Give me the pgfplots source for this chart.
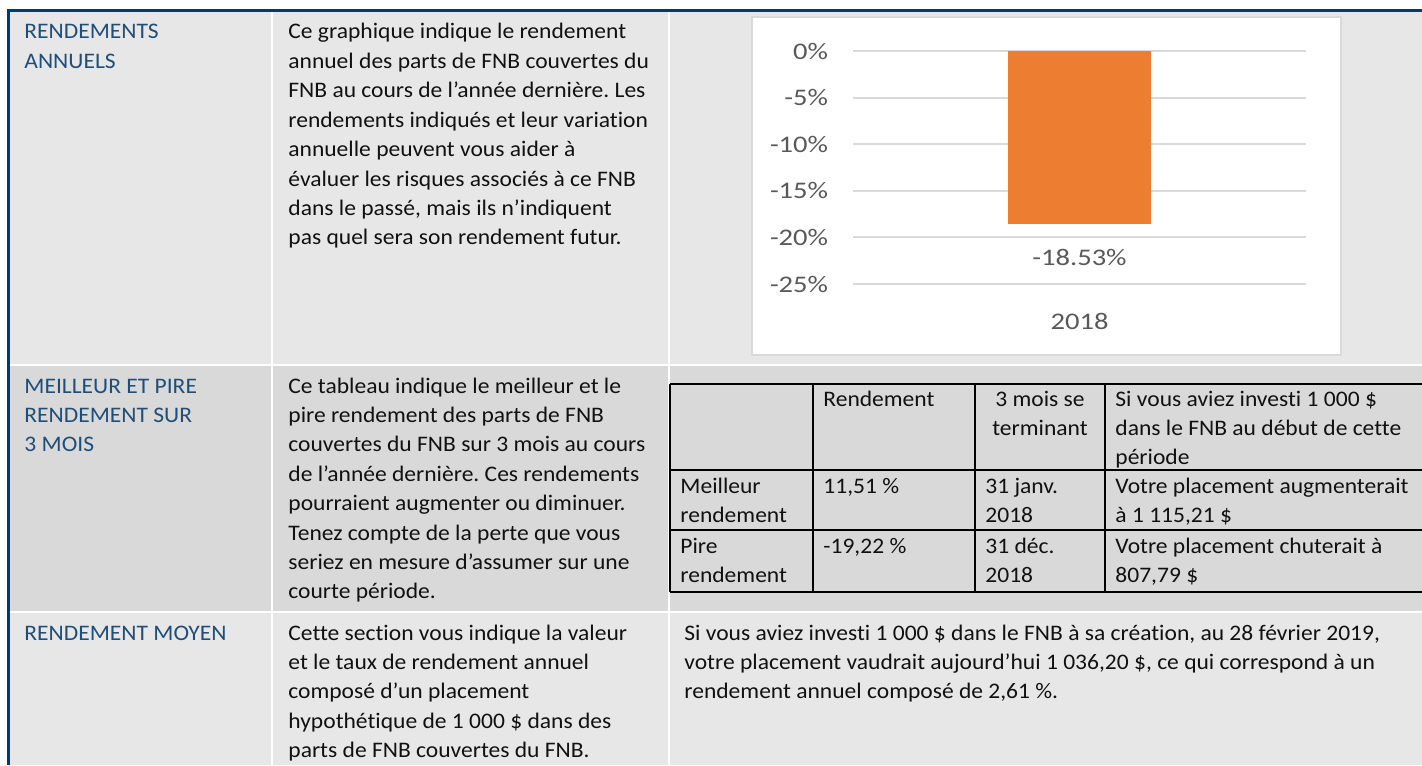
\documentclass[border=0pt]{standalone}
\usepackage{pgfplots}
\pgfplotsset{compat=1.18}
\usepackage{fontspec}
\setmainfont{Carlito}[Ligatures=CommonOff]
\newfontfamily\bodyfam[FakeStretch=1.06,Ligatures=CommonOff]{Carlito}
\newfontfamily\chartfam[FakeStretch=1.2]{Carlito}
\newcommand\bodyfont{\bodyfam\fontsize{11.1}{13}\selectfont}
\newcommand\chartfont{\chartfam\fontsize{11.9}{14}\selectfont}
\definecolor{navy}{HTML}{003A70}
\definecolor{cellA}{HTML}{E7E7E7}
\definecolor{cellB}{HTML}{D9D9D9}
\definecolor{head}{HTML}{1F4E79}
\definecolor{txt}{HTML}{111111}
\definecolor{gridc}{HTML}{D9D9D9}
\definecolor{lab}{HTML}{595959}
\definecolor{barc}{HTML}{ED7D31}
\frenchspacing
\begin{document}
\begin{tikzpicture}
\begin{scope}[x=0.5pt,y=-0.5pt]
\useasboundingbox (0,0) rectangle (1422,765);
\clip (0,0) rectangle (1422,765);
\fill[white] (0,0) rectangle (1422,765);
% cells
\fill[cellA] (9.5,12) rectangle (1422,364);
\fill[cellB] (9.5,366) rectangle (1422,611);
\fill[cellA] (9.5,613) rectangle (1422,765);
% column separators
\fill[white] (271,12) rectangle (273,765);
\fill[white] (668,12) rectangle (670,765);
% chart box
\filldraw[fill=white, draw=gridc, line width=1pt] (752,17) rectangle (1341,355);
% inner table lines
\begin{scope}[line width=1pt, black]
\draw (670,384) -- (1430,384);
\draw (670,470) -- (1430,470);
\draw (670,530) -- (1430,530);
\draw (670,592) -- (1430,592);
\draw (670,384) -- (670,592);
\draw (813,384) -- (813,592);
\draw (975,384) -- (975,592);
\draw (1105,384) -- (1105,592);
\end{scope}
\tikzset{t/.style={anchor=base west, inner sep=0pt, text=txt, font=\bodyfont},
         h/.style={t, text=head}}
% row 1
\foreach \s [count=\i from 0] in {{RENDEMENTS},{ANNUELS}}
  \node[h] at (24,{39+29.4*\i}) {\s};
\foreach \s [count=\i from 0] in {{Ce graphique indique le rendement},{annuel des parts de FNB couvertes du},{FNB au cours de l’année dernière. Les},{rendements indiqués et leur variation},{annuelle peuvent vous aider à},{évaluer les risques associés à ce FNB},{dans le passé, mais ils n’indiquent},{pas quel sera son rendement futur.}}
  \node[t] at (288,{39+29.4*\i}) {\s};
% row 2
\foreach \s [count=\i from 0] in {{MEILLEUR ET PIRE},{RENDEMENT SUR},{3 MOIS}}
  \node[h] at (24,{393+29.4*\i}) {\s};
\foreach \s [count=\i from 0] in {{Ce tableau indique le meilleur et le},{pire rendement des parts de FNB},{couvertes du FNB sur 3 mois au cours},{de l’année dernière. Ces rendements},{pourraient augmenter ou diminuer.},{Tenez compte de la perte que vous},{seriez en mesure d’assumer sur une},{courte période.}}
  \node[t] at (288,{393+29.4*\i}) {\s};
% inner table text
\node[t] at (823,406) {Rendement};
\node[t, anchor=base] at (1040,406) {3 mois se};
\node[t, anchor=base] at (1040,435) {terminant};
\node[t] at (1115,406) {Si vous aviez investi 1 000 \$};
\node[t] at (1115,435) {dans le FNB au début de cette};
\node[t] at (1115,464) {période};
\node[t] at (680,493) {Meilleur};
\node[t] at (680,522) {rendement};
\node[t] at (823,493) {11,51 \%};
\node[t] at (985,493) {31 janv.};
\node[t] at (985,522) {2018};
\node[t] at (1115,493) {Votre placement augmenterait};
\node[t] at (1115,522) {à 1 115,21 \$};
\node[t] at (680,553) {Pire};
\node[t] at (680,582) {rendement};
\node[t] at (823,553) {-19,22 \%};
\node[t] at (985,553) {31 déc.};
\node[t] at (985,582) {2018};
\node[t] at (1115,553) {Votre placement chuterait à};
\node[t] at (1115,582) {807,79 \$};
% row 3
\node[h] at (24,640) {RENDEMENT MOYEN};
\foreach \s [count=\i from 0] in {{Cette section vous indique la valeur},{et le taux de rendement annuel},{composé d’un placement},{hypothétique de 1 000 \$ dans des},{parts de FNB couvertes du FNB.}}
  \node[t] at (288,{640+29.4*\i}) {\s};
\foreach \s [count=\i from 0] in {{Si vous aviez investi 1 000 \$ dans le FNB à sa création, au 28 février 2019,},{votre placement vaudrait aujourd’hui 1 036,20 \$, ce qui correspond à un},{rendement annuel composé de 2,61 \%.}}
  \node[t] at (684,{640+29.4*\i}) {\s};
% navy borders
\fill[navy] (6.5,9) rectangle (1422,12);
\fill[navy] (6.5,9) rectangle (9.5,765);
\end{scope}
\begin{axis}[at={(426.5pt,-142pt)}, anchor=south west, scale only axis,
  width=226.5pt, height=116.5pt, xmin=-0.5, xmax=0.5, ymin=-25, ymax=0,
  axis line style={draw=none}, major tick length=0pt,
  ymajorgrids, grid style={draw=gridc, line width=1pt},
  ytick={-25,-20,-15,-10,-5,0},
  yticklabels={-25\%,-20\%,-15\%,-10\%,-5\%,0\%},
  yticklabel style={anchor=east, inner sep=0pt, xshift=-12.25pt, font=\chartfont, text=lab},
  xtick={0}, xticklabels={2018},
  xticklabel style={anchor=north, inner sep=0pt, yshift=-14.25pt, font=\chartfont, text=lab},
  clip=false]
\addplot[ybar, bar width=71.25pt, bar shift=0pt, fill=barc, draw=none,
  point meta=explicit symbolic, nodes near coords,
  every node near coord/.append style={anchor=north, inner sep=0pt, yshift=-12.75pt, font=\chartfont, text=lab}]
  coordinates {(0,-18.53) [-18.53\%]};
\end{axis}
\end{tikzpicture}
\end{document}
